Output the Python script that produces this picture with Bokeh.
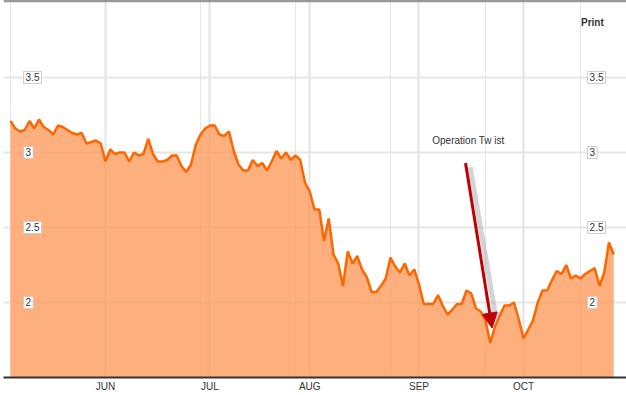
from bokeh.plotting import figure
from bokeh.models import (Range1d, LinearAxis, FixedTicker, Grid, Label, Arrow,
                          NormalHead, Span, ColumnDataSource)
from bokeh.embed import file_html
from bokeh.resources import INLINE

# 10-year yield, trading days from early May to late Oct 2011
yields = [3.21, 3.16, 3.14, 3.15, 3.21, 3.16, 3.22, 3.17, 3.15, 3.12, 3.18, 3.17, 3.15, 3.13, 3.12, 3.13, 3.06, 3.07, 3.08, 3.06,
          2.94, 3.02, 2.99, 3.00, 3.00, 2.94, 3.00, 2.98, 2.99, 3.09, 2.99, 2.94, 2.94, 2.95, 2.98, 2.98, 2.91, 2.87, 2.92, 3.05,
          3.12, 3.16, 3.18, 3.18, 3.12, 3.11, 3.14, 3.01, 2.92, 2.88, 2.88, 2.95, 2.91, 2.93, 2.88, 2.94, 3.01, 2.96, 3.00, 2.95,
          2.98, 2.95, 2.80, 2.74, 2.62, 2.62, 2.41, 2.56, 2.32, 2.26, 2.11, 2.34, 2.26, 2.31, 2.22, 2.17, 2.07, 2.07, 2.11, 2.16,
          2.30, 2.24, 2.20, 2.26, 2.18, 2.22, 2.12, 1.99, 1.99, 1.99, 2.05, 1.98, 1.92, 1.95, 1.99, 1.99, 2.08, 2.06, 1.96, 1.94,
          1.88, 1.73, 1.84, 1.91, 1.98, 1.98, 2.00, 1.89, 1.76, 1.82, 1.88, 2.00, 2.08, 2.08, 2.15, 2.21, 2.19, 2.25, 2.16, 2.18,
          2.16, 2.19, 2.21, 2.23, 2.11, 2.20, 2.40, 2.32]
days = list(range(len(yields)))

month_ticks = [20, 42, 63, 86, 108]
month_labels = ["JUN", "JUL", "AUG", "SEP", "OCT"]

y_ticks = [2, 2.5, 3, 3.5]
y_labels = ["2", "2.5", "3", "3.5"]

annotation_text = "Operation Tw ist"
arrow_start = (95.8, 2.93)
arrow_end = (101.4, 1.83)

y_base = 1.5
y_top = 4.013
x_start, x_end = -1.47, 129.69

src = ColumnDataSource(data=dict(x=days, y=yields))

p = figure(width=626, height=395, output_backend="svg", toolbar_location=None,
           x_axis_location=None, y_axis_location=None,
           x_range=Range1d(x_start, x_end), y_range=Range1d(y_base, y_top),
           min_border_left=3, min_border_right=0, min_border_top=0, min_border_bottom=18)
p.outline_line_color = None
p.background_fill_color = "white"
p.border_fill_color = "white"

xg = Grid(dimension=0, ticker=FixedTicker(ticks=month_ticks),
          grid_line_color="#e2e2e2", grid_line_width=2)
yg = Grid(dimension=1, ticker=FixedTicker(ticks=y_ticks),
          grid_line_color="#e6e6e6", grid_line_width=2)
p.add_layout(xg)
p.add_layout(yg)

p.varea(x="x", y1=y_base, y2="y", source=src, fill_color="#FD9B5C", fill_alpha=0.8)
p.line(x="x", y="y", source=src, line_color="#FF6600", line_width=2.5)

axis = LinearAxis(ticker=FixedTicker(ticks=month_ticks),
                  major_label_overrides={t: l for t, l in zip(month_ticks, month_labels)})
axis.axis_line_color = "#333333"
axis.axis_line_width = 2
axis.major_tick_line_color = None
axis.minor_tick_line_color = None
axis.major_tick_out = 0
axis.major_label_standoff = 3
axis.major_label_text_font = "Liberation Sans"
axis.major_label_text_font_size = "10px"
axis.major_label_text_color = "#333333"
p.add_layout(axis, "below")

p.add_layout(Span(location=y_top, dimension="width", line_color="#333333", line_width=2))

for v, t in zip(y_ticks, y_labels):
    for xpos in (2.75, 121.5):
        p.add_layout(Label(x=xpos, y=v, text=t, text_align="left", text_baseline="middle",
                           text_font="Liberation Sans", text_font_size="10px", text_color="#333333",
                           background_fill_color="white", border_line_color="#cccccc",
                           padding=2))

p.add_layout(Label(x=88.8, y=3.083, text=annotation_text, text_align="left",
                   text_baseline="middle", text_font="Liberation Sans",
                   text_font_size="10px", text_color="#333333"))

p.add_layout(Label(x=124.9, y=3.865, text="Print",
                   text_align="right", text_baseline="middle", text_font="Liberation Sans",
                   text_font_size="10px", text_font_style="bold", text_color="#333333"))

# shadow of the arrow
p.add_layout(Arrow(x_start=arrow_start[0] + 1.0, y_start=arrow_start[1] - 0.03,
                   x_end=arrow_end[0] + 1.0, y_end=arrow_end[1] + 0.03,
                   line_color="#aaaaaa", line_alpha=0.5, line_width=5,
                   end=NormalHead(size=11, fill_color="#999999", fill_alpha=0.4, line_color=None)))
p.add_layout(Arrow(x_start=arrow_start[0], y_start=arrow_start[1],
                   x_end=arrow_end[0], y_end=arrow_end[1],
                   line_color="#C00000", line_width=3,
                   end=NormalHead(size=15, fill_color="#C00000", line_color="#C00000")))

open("out.html", "w").write(file_html(p, INLINE))
